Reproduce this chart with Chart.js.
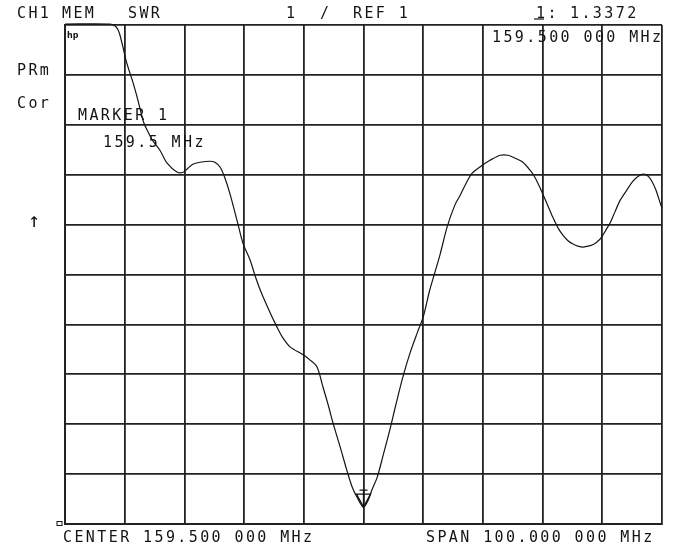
<!DOCTYPE html>
<html>
<head>
<meta charset="utf-8">
<script src="https://cdn.jsdelivr.net/npm/chart.js@4/dist/chart.umd.min.js"></script>
<style>
  html, body { margin: 0; padding: 0; background: #fff; }
  #wrap { position: relative; width: 680px; height: 553px; }
</style>
</head>
<body>
<div id="wrap"><canvas id="c" width="680" height="553"></canvas></div>
<script>
// Frequency (MHz) of each trace point
const freqMHz = [
  109.5, 117.0, 117.9, 118.4, 118.7, 119.2, 119.7, 120.2, 120.7, 121.2,
  121.7, 122.2, 122.7, 123.4, 124.2, 125.4, 126.6, 128.3, 129.3, 130.1,
  130.9, 132.1, 133.8, 134.6, 135.5, 136.3, 137.1, 138.3, 139.3, 140.5,
  141.3, 142.2, 143.8, 145.0, 146.0, 147.2, 149.4, 150.5, 151.7, 152.7,
  153.6, 154.4, 155.6, 156.7, 157.6, 158.4, 159.5, 160.3, 160.9, 161.8,
  162.8, 163.9, 164.9, 166.1, 167.3, 168.5, 169.5, 170.6, 172.3, 173.5,
  174.8, 175.7, 176.7, 177.7, 179.4, 180.7, 182.4, 183.7, 184.9, 186.2,
  187.4, 188.2, 189.1, 190.2, 191.2, 192.1, 192.9, 193.8, 194.6, 195.4,
  196.3, 197.1, 197.8, 198.6, 199.4, 200.1, 200.8, 201.6, 202.5, 203.6,
  204.5, 205.3, 206.3, 207.2, 207.8, 208.5, 209.2, 209.5
];
// SWR value of each trace point
const swr = [
  11.02, 11.02, 10.98, 10.90, 10.80, 10.56, 10.30, 10.10, 9.92, 9.72,
  9.50, 9.26, 9.04, 8.86, 8.68, 8.49, 8.23, 8.05, 8.05, 8.13,
  8.21, 8.25, 8.27, 8.25, 8.15, 7.93, 7.63, 7.09, 6.63, 6.29,
  5.99, 5.69, 5.25, 4.95, 4.73, 4.55, 4.39, 4.29, 4.15, 3.75,
  3.38, 3.02, 2.54, 2.08, 1.74, 1.54, 1.3372, 1.48, 1.68, 1.94,
  2.38, 2.88, 3.38, 3.95, 4.43, 4.83, 5.15, 5.69, 6.39, 6.95,
  7.39, 7.59, 7.83, 8.03, 8.19, 8.29, 8.39, 8.39, 8.33, 8.25,
  8.09, 7.95, 7.73, 7.43, 7.15, 6.93, 6.79, 6.67, 6.61, 6.57,
  6.55, 6.57, 6.59, 6.65, 6.75, 6.89, 7.03, 7.25, 7.49, 7.69,
  7.85, 7.95, 8.01, 7.97, 7.87, 7.69, 7.43, 7.33
];
// Vertical graticule lines (MHz), 10 MHz per division
const gridFreqs = [109.5, 119.5, 129.5, 139.5, 149.5, 159.5, 169.5, 179.5, 189.5, 199.5, 209.5];
// Horizontal graticule lines (SWR), 1 per division, REF 1 at bottom
const gridSWR = [1, 2, 3, 4, 5, 6, 7, 8, 9, 10, 11];
// Marker
const markerFreq = [159.5];
const markerSWR = [1.3372];

const INK = '#141414';
const GRID = '#222222';
const FONT = '15px "DejaVu Sans Mono", "Liberation Mono", monospace';

const annotations = {
  id: 'annotations',
  afterDraw(chart) {
    const ctx = chart.ctx;
    const xs = chart.scales.x, ys = chart.scales.y;
    ctx.save();
    ctx.fillStyle = INK;
    ctx.strokeStyle = INK;
    ctx.font = FONT;
    ctx.textBaseline = 'alphabetic';
    ctx.letterSpacing = '2.4px';
    const t = (s, x, y) => ctx.fillText(s, x, y);
    t('CH1', 17, 18);
    t('MEM', 62, 18);
    t('SWR', 128, 18);
    t('1', 286, 18);
    t('/', 320, 18);
    t('REF 1', 353, 18);
    t('1:', 536, 18);
    t('1.3372', 570, 18);
    t('159.500 000 MHz', 492, 42);
    t('PRm', 17, 75);
    t('Cor', 17, 108);
    t('MARKER 1', 78, 120);
    t('159.5 MHz', 103, 147);
    t('CENTER 159.500 000 MHz', 63, 542);
    t('SPAN 100.000 000 MHz', 426, 542);
    ctx.letterSpacing = '0px';
    ctx.font = '20px "DejaVu Sans Mono", monospace';
    t('\u2191', 28, 227);
    ctx.font = 'bold 8px "DejaVu Sans", sans-serif';
    t('hp', 67, 38);
    // marker-active underline under "1:"
    ctx.lineWidth = 1.2;
    ctx.beginPath(); ctx.moveTo(534, 19); ctx.lineTo(544, 19); ctx.stroke();
    // marker symbol at the marker point
    const mx = xs.getPixelForValue(markerFreq[0]);
    const my = ys.getPixelForValue(markerSWR[0]);
    ctx.lineWidth = 1.3;
    ctx.beginPath();
    ctx.moveTo(mx, my);
    ctx.lineTo(mx - 7, my - 13);
    ctx.lineTo(mx + 7, my - 13);
    ctx.closePath();
    ctx.stroke();
    ctx.beginPath();
    ctx.moveTo(mx, my - 2); ctx.lineTo(mx, my - 17);
    ctx.moveTo(mx - 4, my - 17); ctx.lineTo(mx + 4, my - 17);
    ctx.stroke();
    // reference position indicator at left of bottom line
    const ry = ys.getPixelForValue(gridSWR[0]);
    ctx.lineWidth = 1;
    ctx.strokeRect(xs.left - 8, ry - 2.5, 5, 4);
    ctx.restore();
  }
};

new Chart(document.getElementById('c'), {
  type: 'line',
  data: {
    datasets: [{
      data: freqMHz.map((f, i) => ({ x: f, y: swr[i] })),
      borderColor: INK,
      borderWidth: 1.2,
      pointRadius: 0,
      tension: 0.3,
      fill: false,
      clip: 2
    }]
  },
  options: {
    responsive: false,
    animation: false,
    layout: { padding: { left: 65, top: 25, right: 18, bottom: 29 } },
    plugins: { legend: { display: false }, tooltip: { enabled: false } },
    scales: {
      x: {
        type: 'linear',
        min: gridFreqs[0],
        max: gridFreqs[gridFreqs.length - 1],
        afterBuildTicks: axis => { axis.ticks = gridFreqs.map(v => ({ value: v })); },
        ticks: { display: false },
        grid: { color: GRID, lineWidth: 1.8, drawTicks: false },
        border: { color: GRID, width: 2 }
      },
      y: {
        type: 'linear',
        min: gridSWR[0],
        max: gridSWR[gridSWR.length - 1],
        afterBuildTicks: axis => { axis.ticks = gridSWR.map(v => ({ value: v })); },
        ticks: { display: false },
        grid: { color: GRID, lineWidth: 1.8, drawTicks: false },
        border: { color: GRID, width: 2 }
      }
    }
  },
  plugins: [annotations]
});
</script>
</body>
</html>
